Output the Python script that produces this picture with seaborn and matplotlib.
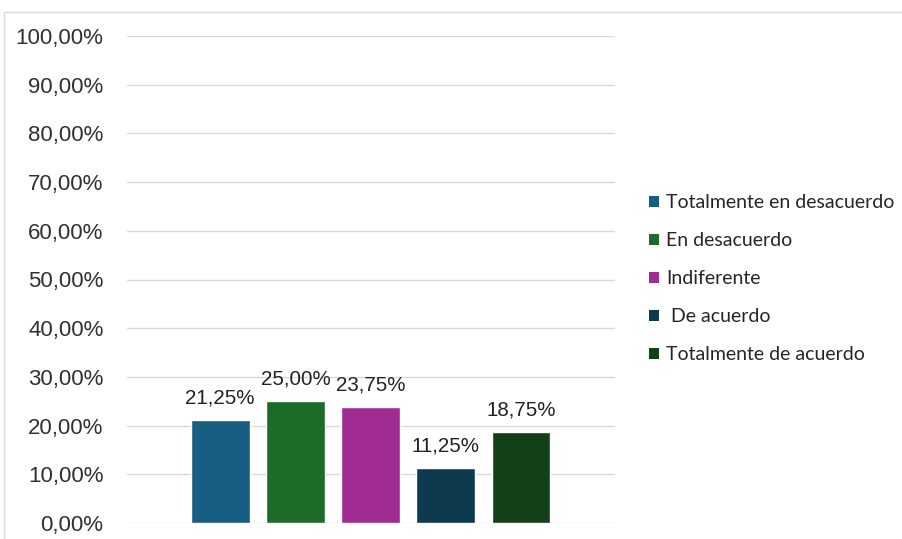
import matplotlib
matplotlib.use("Agg")
import matplotlib.pyplot as plt
import seaborn as sns
import pandas as pd
from matplotlib.patches import Rectangle, Patch

categories = ["Totalmente en desacuerdo", "En desacuerdo", "Indiferente", " De acuerdo", "Totalmente de acuerdo"]
values = [21.25, 25.00, 23.75, 11.25, 18.75]
colors = ["#175E82", "#1C6B27", "#A02B93", "#0E3A50", "#114019"]
yticks = [0, 10, 20, 30, 40, 50, 60, 70, 80, 90, 100]

def fmt(v):
    return f"{v:.2f}%".replace(".", ",")

sns.set_theme(style="white")
plt.rcParams['font.family'] = ['Liberation Sans', 'DejaVu Sans']

df = pd.DataFrame({"cat": categories, "val": values})

fig = plt.figure(figsize=(9.02, 5.39), dpi=100)
ax = fig.add_axes([127/902, 16/539, 488/902, 487/539])

sns.barplot(data=df, x="cat", y="val", hue="cat", palette=colors, dodge=False,
            width=0.78, ax=ax, legend=False, saturation=1)

ax.set_ylim(0, 100)
ax.set_xlim(-1.24, 5.25)
ax.set_yticks(yticks)
ax.set_yticklabels([fmt(t) for t in yticks], fontsize=16, color="#303030")
ax.set_xticks([])
ax.set_xlabel("")
ax.set_ylabel("")
ax.tick_params(axis="y", length=0, pad=17)
for s in ax.spines.values():
    s.set_visible(False)
ax.grid(axis="y", color="#d9d9d9", linewidth=1)
ax.set_axisbelow(True)

for cont in ax.containers:
    ax.bar_label(cont, labels=[fmt(v) for v in cont.datavalues], padding=9,
                 fontsize=14.8, color="#222222")

handles = [Patch(facecolor=c, edgecolor="none") for c in colors]
fig.legend(handles, categories, loc="center left",
           bbox_to_anchor=(631/902, 1 - 279/539), frameon=False,
           handlelength=0.55, handleheight=0.55, handletextpad=0.35,
           labelspacing=1.08, prop={"family": "Lato", "size": 14})

fig.patches.append(Rectangle((4/902, -0.1), 1.2, 1 - 12/539 + 0.1,
                             transform=fig.transFigure, fill=False,
                             edgecolor="#d9d9d9", linewidth=1))

fig.savefig("out.png", dpi=100)
